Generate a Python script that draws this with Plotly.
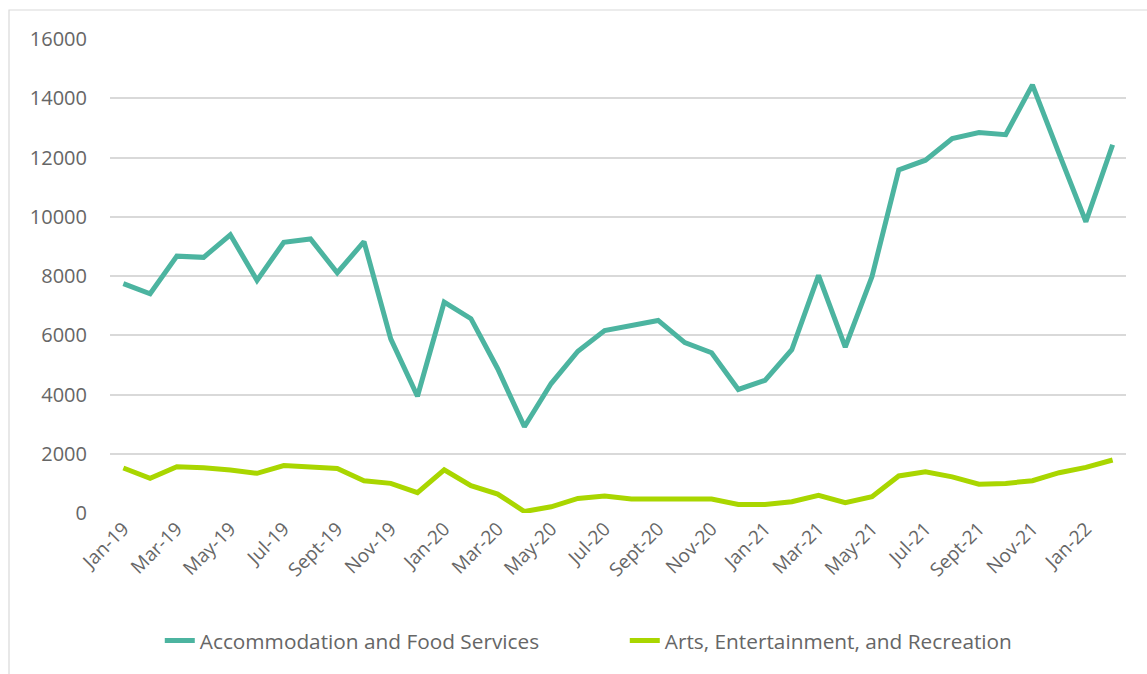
import plotly.graph_objects as go

months = ["Jan-19", "Feb-19", "Mar-19", "Apr-19", "May-19", "Jun-19", "Jul-19", "Aug-19",
          "Sept-19", "Oct-19", "Nov-19", "Dec-19",
          "Jan-20", "Feb-20", "Mar-20", "Apr-20", "May-20", "Jun-20", "Jul-20", "Aug-20",
          "Sept-20", "Oct-20", "Nov-20", "Dec-20",
          "Jan-21", "Feb-21", "Mar-21", "Apr-21", "May-21", "Jun-21", "Jul-21", "Aug-21",
          "Sept-21", "Oct-21", "Nov-21", "Dec-21",
          "Jan-22", "Feb-22"]

accommodation_food = [7740, 7400, 8670, 8630, 9390, 7850, 9140, 9250, 8110, 9160, 5880, 3940,
                      7120, 6560, 4870, 2910, 4370, 5460, 6160, 6330, 6500, 5750, 5410, 4170,
                      4480, 5510, 8020, 5600, 7980, 11580, 11910, 12640, 12840, 12770, 14450, 12120,
                      9830, 12430]

arts_entertainment = [1520, 1170, 1560, 1530, 1450, 1340, 1600, 1560, 1500, 1090, 1000, 690,
                      1460, 920, 640, 50, 210, 490, 570, 470, 490, 470, 470, 290,
                      290, 380, 600, 350, 550, 1250, 1390, 1220, 970, 1000, 1090, 1360,
                      1540, 1790]

tick_labels = months[::2]

series_names = ["Accommodation and Food Services", "Arts, Entertainment, and Recreation"]
series_colors = ["#4CB4A0", "#A9D600"]

fig = go.Figure()
for name, vals, col in zip(series_names, [accommodation_food, arts_entertainment], series_colors):
    fig.add_trace(go.Scatter(
        x=months, y=vals, mode="lines", name=name,
        line=dict(color=col, width=5, shape="linear"),
    ))

font_family = "Open Sans, Lato, sans-serif"
grey = "#666666"

fig.update_layout(
    width=1147, height=674,
    margin=dict(l=110, r=21, t=39, b=161),
    paper_bgcolor="white", plot_bgcolor="white",
    font=dict(family=font_family, color=grey, size=18),
    showlegend=True,
    legend=dict(
        orientation="h", x=0.049, xanchor="left", y=-0.27, yanchor="middle",
        font=dict(size=20.8, color=grey), traceorder="normal",
        entrywidth=420, entrywidthmode="pixels",
    ),
    xaxis=dict(
        type="category", categoryorder="array", categoryarray=months,
        range=[-0.5, len(months) - 0.5],
        tickmode="array", tickvals=tick_labels, ticktext=tick_labels,
        tickangle=-45, showgrid=False, zeroline=False, showline=False,
        ticks="", tickfont=dict(size=19, color=grey),
    ),
    yaxis=dict(
        range=[0, 16000], dtick=2000, tick0=0, tickformat="d",
        showgrid=True, gridcolor="#D9D9D9", gridwidth=1.5,
        zeroline=False, showline=False, ticks="",
        tickfont=dict(size=20, color=grey), ticklabelstandoff=22,
    ),
    shapes=[dict(
        type="rect", xref="paper", yref="paper",
        x0=-0.0994, x1=1.05, y0=-0.5, y1=1.0612,
        line=dict(color="#D9D9D9", width=1.2), fillcolor="rgba(0,0,0,0)", layer="below",
    )],
)

fig.write_html("out.html")
